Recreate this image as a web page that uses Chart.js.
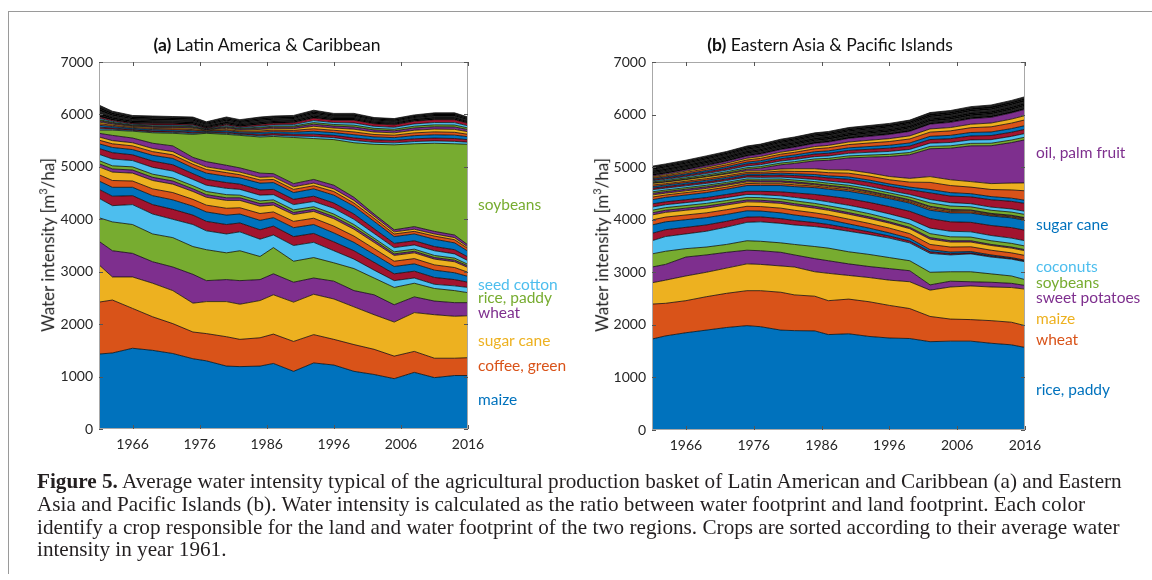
<!DOCTYPE html>
<html>
<head>
<meta charset="utf-8">
<script src="https://cdn.jsdelivr.net/npm/chart.js@4.4.1/dist/chart.umd.min.js"></script>
<style>
  body { margin: 0; background: #fff; width: 1152px; height: 580px; overflow: hidden; position: relative; font-family: Lato, "Open Sans", sans-serif; }
  #frame { position: absolute; left: 8px; top: 11px; width: 1150px; height: 562px; border-top: 1px solid #9a9a9a; border-left: 1px solid #9a9a9a; }
  canvas { position: absolute; top: 0; }
  .ttl { position: absolute; top: 34px; font-size: 17.5px; color: #111; white-space: nowrap; transform: translateX(-50%); }
  .lab { position: absolute; font-size: 15.5px; white-space: nowrap; line-height: 1; transform: translateY(-50%); }
  .ylab { position: absolute; font-size: 17px; color: #262626; white-space: nowrap; transform: translate(-50%, -50%) rotate(-90deg); }
  #cap { position: absolute; left: 37px; top: 470px; font-family: "Liberation Serif", serif; color: #231f20; line-height: 22.8px; font-size: 19px; }
  #cap div { white-space: nowrap; }
</style>
</head>
<body>
<div id="frame"></div>
<canvas id="chartA" width="576" height="470" style="left:0"></canvas>
<canvas id="chartB" width="576" height="470" style="left:553px"></canvas>

<div class="ttl" style="left:267px"><b>(a)</b> Latin America &amp; Caribbean</div>
<div class="ttl" style="left:830px"><b>(b)</b> Eastern Asia &amp; Pacific Islands</div>
<div class="ylab" style="left:47px;top:245px">Water intensity [m<sup style="font-size:11px">3</sup>/ha]</div>
<div class="ylab" style="left:601px;top:245px">Water intensity [m<sup style="font-size:11px">3</sup>/ha]</div>

<div class="lab" style="left:478px;top:205px;color:#77AC30">soybeans</div>
<div class="lab" style="left:478px;top:285px;color:#4DBEEE">seed cotton</div>
<div class="lab" style="left:478px;top:298px;color:#77AC30">rice, paddy</div>
<div class="lab" style="left:478px;top:313px;color:#7E2F8E">wheat</div>
<div class="lab" style="left:478px;top:341px;color:#EDB120">sugar cane</div>
<div class="lab" style="left:478px;top:366px;color:#D95319">coffee, green</div>
<div class="lab" style="left:478px;top:400px;color:#0072BD">maize</div>

<div class="lab" style="left:1036px;top:153px;color:#7E2F8E">oil, palm fruit</div>
<div class="lab" style="left:1036px;top:225px;color:#0072BD">sugar cane</div>
<div class="lab" style="left:1036px;top:267px;color:#4DBEEE">coconuts</div>
<div class="lab" style="left:1036px;top:283px;color:#77AC30">soybeans</div>
<div class="lab" style="left:1036px;top:298px;color:#7E2F8E">sweet potatoes</div>
<div class="lab" style="left:1036px;top:319px;color:#EDB120">maize</div>
<div class="lab" style="left:1036px;top:340px;color:#D95319">wheat</div>
<div class="lab" style="left:1036px;top:390px;color:#0072BD">rice, paddy</div>

<div id="cap">
  <div id="capLine1"><b>Figure 5.</b> Average water intensity typical of the agricultural production basket of Latin American and Caribbean (a) and Eastern</div>
  <div>Asia and Pacific Islands (b). Water intensity is calculated as the ratio between water footprint and land footprint. Each color</div>
  <div>identify a crop responsible for the land and water footprint of the two regions. Crops are sorted according to their average water</div>
  <div>intensity in year 1961.</div>
</div>

<script>
const years = [1961,1963,1966,1969,1972,1975,1977,1980,1982,1985,1987,1990,1993,1996,1999,2002,2005,2008,2011,2014,2016];
const xTicks = [1966,1976,1986,1996,2006,2016];
const yTicks = [0,1000,2000,3000,4000,5000,6000,7000];

// (a) Latin America & Caribbean, m3/ha per crop (stacked, bottom to top)
const latMaize  = [1430,1450,1540,1500,1440,1340,1300,1200,1190,1200,1250,1100,1260,1220,1100,1040,960,1080,980,1020,1020];
const latCoffee = [990,1010,760,640,570,510,520,560,520,540,560,570,540,490,510,480,430,400,370,330,340];
const latSugar  = [710,440,600,640,630,550,610,670,670,710,750,750,770,770,720,660,650,740,830,800,800];
const latWheat  = [450,500,450,410,450,550,400,420,450,400,400,380,310,340,310,380,330,300,260,260,250];
const latRice   = [450,550,550,530,560,530,590,510,570,440,500,400,390,350,420,320,330,260,240,230,190];
const latCotton = [370,310,380,380,350,420,360,360,360,330,240,300,290,230,180,150,130,100,80,90,100];
const latMid = [
  [170,180,170,180,190,180,180,180,170,180,170,170,170,170,160,150,130,130,130,120,100],
  [160,170,160,170,180,170,180,180,170,180,160,170,170,170,160,150,140,140,140,130,110],
  [120,130,120,130,140,130,130,130,120,130,110,120,120,130,120,110,100,100,100,100,80],
  [150,160,150,160,160,150,150,150,140,140,130,130,130,140,130,120,110,110,110,110,90],
  [60,60,60,60,60,50,50,50,50,50,50,40,40,40,40,40,30,30,30,30,30],
  [60,60,60,60,60,60,60,60,50,50,50,50,50,50,50,40,40,40,40,40,30],
  [120,130,120,130,130,120,120,120,110,110,100,100,100,110,100,90,80,80,90,80,70],
  [110,120,110,120,120,110,110,110,100,100,100,100,100,100,100,90,80,80,80,80,70],
  [90,100,100,110,120,110,120,120,120,130,130,130,140,150,150,140,130,130,140,130,110],
  [70,70,70,70,70,70,70,70,60,60,60,60,60,70,60,60,50,50,60,60,50],
  [60,60,60,60,60,50,50,50,50,50,50,50,50,50,50,40,40,40,40,40,30],
  [70,100,90,100,110,80,100,90,80,80,60,60,70,70,60,40,40,50,50,50,40]
];
const latSoy = [60,100,130,200,240,440,540,590,620,690,710,880,780,870,1040,1330,1620,1580,1680,1740,1920];
const latUpper = [
  [26,19,15,17,18,19,10,19,17,24,25,28,39,37,43,39,38,43,45,46,40],
  [31,23,18,20,22,23,12,23,20,29,30,34,45,44,50,47,46,52,54,55,48],
  [36,27,21,24,25,27,14,27,24,34,35,39,55,52,60,55,53,60,63,64,56],
  [30,24,18,21,22,22,12,22,20,28,31,35,48,45,53,46,47,53,55,54,47],
  [31,22,18,20,21,23,12,24,21,29,29,33,47,43,52,48,45,51,53,56,49],
  [26,19,15,17,18,19,10,19,17,24,25,28,39,37,43,39,38,43,45,46,40],
  [21,15,12,14,14,15,8,15,14,19,20,22,31,30,34,31,30,34,36,37,32],
  [26,19,15,17,18,19,10,19,17,24,25,28,39,37,43,39,38,43,45,46,40],
  [31,23,18,20,22,23,12,23,20,29,30,34,47,44,52,47,46,52,54,55,48]
];
const latTail = [
  [38,28,25,25,24,23,20,23,22,23,24,23,25,22,22,20,20,20,22,22,20],
  [36,29,25,24,23,24,20,24,22,24,23,23,26,22,21,20,21,20,22,23,20],
  [37,28,26,25,23,23,21,23,21,23,23,24,25,21,22,21,20,20,21,22,20],
  [38,27,25,26,23,24,19,23,22,23,24,23,24,22,22,20,19,21,22,22,21],
  [36,29,24,25,24,23,20,24,22,24,23,23,25,22,21,20,20,19,22,21,19],
  [35,29,25,25,23,23,20,23,21,23,23,24,25,21,22,19,20,20,21,22,20]
];

// (b) Eastern Asia & Pacific Islands
const easRice  = [1730,1790,1850,1900,1950,1985,1965,1900,1890,1885,1815,1830,1780,1750,1740,1680,1690,1690,1650,1620,1570];
const easWheat = [665,620,610,635,650,665,685,720,680,660,645,660,660,620,570,480,420,410,430,430,415];
const easMaize = [405,440,470,465,480,510,500,500,530,465,520,450,460,480,510,500,610,640,640,660,695];
const easSweetPot = [300,300,360,330,300,260,260,260,230,250,240,220,210,220,210,100,110,80,90,80,70];
const easSoy   = [250,250,160,150,150,180,180,180,200,230,240,230,230,210,190,240,180,190,160,140,110];
const easCoco  = [250,280,280,300,330,350,370,370,370,380,380,390,380,370,340,360,320,340,320,320,340];
const easLow = [
  [140,130,125,120,110,100,95,90,85,75,70,60,50,40,35,30,25,20,20,15,15],
  [160,150,145,140,130,120,110,110,105,95,90,80,70,60,50,40,30,25,20,15,15],
  [95,90,90,90,90,85,85,90,90,90,90,90,90,90,90,100,95,90,90,90,90],
  [95,90,90,90,90,85,85,90,90,90,90,95,95,95,95,100,95,90,90,90,90],
  [40,40,40,40,35,35,35,35,35,35,30,30,30,25,25,30,25,25,20,20,20],
  [50,50,50,50,50,50,50,50,55,55,55,60,60,60,65,75,75,70,70,70,70],
  [60,55,55,55,55,55,55,60,65,70,75,80,85,90,90,105,105,100,100,100,100],
  [60,55,55,55,60,60,65,75,85,100,110,125,130,140,150,180,180,180,190,200,200]
];
const easSugar = [80,85,90,95,100,110,110,120,120,130,130,140,145,150,155,160,170,175,180,185,190];
const easMid = [
  [50,45,45,45,40,40,35,35,35,30,30,30,30,25,25,30,25,25,20,20,20],
  [40,35,35,35,35,30,30,30,30,25,25,25,20,20,20,25,20,20,15,15,15],
  [30,30,30,30,25,25,25,25,25,20,20,20,20,20,20,20,20,15,15,15,15],
  [30,30,30,30,30,30,30,35,35,40,40,40,45,45,50,65,65,60,60,60,60],
  [40,35,35,35,35,35,35,35,40,40,40,45,45,45,50,65,65,60,60,60,60],
  [30,30,30,30,30,30,35,40,45,55,60,70,75,80,90,125,125,130,140,145,150],
  [30,30,30,30,30,30,30,35,35,40,40,45,45,45,50,65,65,60,60,60,60],
  [30,25,27,30,30,30,30,40,45,55,60,70,75,80,95,135,135,125,135,157,180],
  [30,30,30,35,35,30,30,40,50,55,55,60,60,62,71,110,110,105,112,130,150]
];
const easPalm = [10,10,10,10,15,30,50,80,100,150,180,230,300,380,450,530,600,680,720,770,820];
const easUpper = [
  [20,22,24,26,28,30,31,33,34,36,37,39,40,42,43,45,46,47,48,49,50],
  [20,22,25,28,31,34,36,39,41,44,46,49,52,55,58,61,63,66,68,69,70],
  [20,22,26,30,33,37,39,43,45,49,51,55,58,62,65,69,72,75,78,79,80],
  [20,22,25,28,31,34,36,39,41,44,46,49,52,55,58,61,63,66,68,69,70],
  [20,23,28,32,37,41,44,48,51,55,58,62,67,71,76,80,86,91,98,104,110],
  [20,22,25,28,31,34,36,39,41,44,46,49,52,55,58,61,63,66,72,77,80],
  [20,23,27,32,37,42,46,51,55,60,64,69,75,80,86,91,99,105,108,117,120]
];
const easTail = [
  [23,22,22,23,23,24,24,24,25,25,25,26,26,26,27,27,28,29,29,30,30],
  [22,23,22,23,23,24,24,25,24,25,25,26,26,27,27,28,28,29,29,30,31],
  [22,22,23,23,24,24,23,24,24,25,25,25,26,26,27,27,28,28,30,30,30],
  [23,22,22,23,23,24,24,24,24,25,26,26,25,26,27,27,28,29,29,29,30],
  [22,23,22,24,23,23,24,24,25,25,25,26,26,26,26,28,28,29,29,30,30],
  [22,22,23,23,23,24,24,25,24,25,25,25,26,26,27,27,29,29,29,30,29],
  [22,23,22,23,23,24,24,24,24,25,24,26,26,27,27,28,28,28,30,30,30],
  [22,23,24,23,23,23,23,25,25,25,25,26,25,26,27,28,28,29,30,29,30]
];

const COLORS = ['#0072BD','#D95319','#EDB120','#7E2F8E','#77AC30','#4DBEEE','#A2142F'];

// layers past `darkFrom` are the many tiny crops that print as a black band
function buildDatasets(layers, darkFrom) {
  return layers.map((vals, i) => ({
    data: vals.map((v, j) => ({x: years[j], y: v})),
    backgroundColor: i >= darkFrom ? (i % 3 === 0 ? '#2a2a2a' : '#050505') : COLORS[i % 7],
    borderColor: 'rgba(0,0,0,0.9)',
    borderWidth: 0.8,
    fill: i === 0 ? 'origin' : '-1',
    pointRadius: 0,
    tension: 0
  }));
}

const boxPlugin = {
  id: 'box',
  afterDatasetsDraw(chart) {
    const {ctx, chartArea: a, scales: {x, y}} = chart;
    ctx.save();
    ctx.strokeStyle = '#a8a8a8';
    ctx.lineWidth = 1;
    ctx.strokeRect(Math.round(a.left) + 0.5, Math.round(a.top) + 0.5, Math.round(a.width) - 1, Math.round(a.height) - 1);
    ctx.strokeStyle = '#555';
    ctx.beginPath();
    xTicks.forEach(v => {
      const px = Math.round(x.getPixelForValue(v)) + 0.5;
      ctx.moveTo(px, a.bottom); ctx.lineTo(px, a.bottom - 4);
      ctx.moveTo(px, a.top); ctx.lineTo(px, a.top + 4);
    });
    yTicks.forEach(v => {
      const py = Math.round(y.getPixelForValue(v)) + 0.5;
      ctx.moveTo(a.left, py); ctx.lineTo(a.left + 4, py);
      ctx.moveTo(a.right, py); ctx.lineTo(a.right - 4, py);
    });
    ctx.stroke();
    ctx.restore();
  }
};

function makeChart(id, layers, darkFrom, padRight, padBottom) {
  return new Chart(document.getElementById(id), {
    type: 'line',
    data: { datasets: buildDatasets(layers, darkFrom) },
    options: {
      responsive: false,
      animation: false,
      events: [],
      layout: { padding: { left: 0, right: padRight, top: 62, bottom: padBottom } },
      plugins: { legend: { display: false }, tooltip: { enabled: false }, title: { display: false } },
      scales: {
        x: {
          type: 'linear', min: 1961, max: 2016,
          grid: { display: false, tickLength: 0 }, border: { display: false },
          afterBuildTicks: s => { s.ticks = xTicks.map(v => ({value: v})); },
          afterFit: s => { s.height = 30; },
          ticks: { padding: 7, color: '#262626', font: { family: 'Lato', size: 14 }, maxRotation: 0, autoSkip: false, callback: v => String(v) }
        },
        y: {
          stacked: true, min: 0, max: 7000,
          grid: { display: false, tickLength: 0 }, border: { display: false },
          afterBuildTicks: s => { s.ticks = yTicks.map(v => ({value: v})); },
          afterFit: s => { s.width = 99; },
          ticks: { padding: 6, color: '#262626', font: { family: 'Lato', size: 14 }, callback: v => String(v) }
        }
      }
    },
    plugins: [boxPlugin]
  });
}

const latLayers = [latMaize, latCoffee, latSugar, latWheat, latRice, latCotton, ...latMid, latSoy, ...latUpper, ...latTail];
const easLayers = [easRice, easWheat, easMaize, easSweetPot, easSoy, easCoco, ...easLow, easSugar, ...easMid, easPalm, ...easUpper, ...easTail];
makeChart('chartA', latLayers, latLayers.length - latTail.length, 108, 11);
makeChart('chartB', easLayers, easLayers.length - easTail.length, 104, 10);

// fit the caption's first line to the printed width
const cap = document.getElementById('cap');
const w = document.getElementById('capLine1').getBoundingClientRect().width;
cap.style.fontSize = (19 * 1085 / w).toFixed(2) + 'px';
</script>
</body>
</html>
